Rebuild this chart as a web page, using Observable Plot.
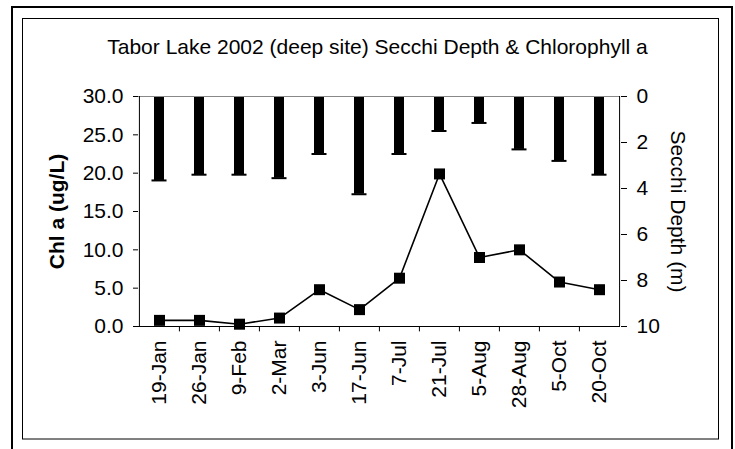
<!DOCTYPE html>
<html>
<head>
<meta charset="utf-8">
<script src="https://cdn.jsdelivr.net/npm/d3@7"></script>
<script src="https://cdn.jsdelivr.net/npm/@observablehq/plot@0.6"></script>
<style>
  html, body { margin: 0; padding: 0; background: #fff; }
  #chart { position: relative; width: 735px; height: 449px; overflow: hidden; }
</style>
</head>
<body>
<div id="chart"></div>
<script>
const dates = ["19-Jan","26-Jan","9-Feb","2-Mar","3-Jun","17-Jun","7-Jul","21-Jul","5-Aug","28-Aug","5-Oct","20-Oct"];
const chlA = [0.8, 0.8, 0.3, 1.1, 4.8, 2.2, 6.3, 19.9, 9.0, 10.0, 5.8, 4.8];
const secchi = [3.65, 3.4, 3.4, 3.55, 2.5, 4.25, 2.5, 1.5, 1.15, 2.3, 2.8, 3.4];
const chlTicks = [0, 5, 10, 15, 20, 25, 30];
const depthTicks = [0, 2, 4, 6, 8, 10];
const title = "Tabor Lake 2002 (deep site) Secchi Depth & Chlorophyll a";
const yTitleLeft = "Chl a (ug/L)";
const yTitleRight = "Secchi Depth (m)";

const chlMax = 30, depthMax = 10, k = chlMax / depthMax;
const toY = d => chlMax - d * k;   // secchi depth -> shared y scale

const W = 735, H = 449, mL = 138, mR = 115, mT = 96, mB = 123;
const bw = (W - mL - mR) / dates.length;
const font = "'Liberation Sans', Arial, sans-serif";
const fs = 21;
const idx = d3.range(dates.length);

const plot = Plot.plot({
  width: W, height: H,
  marginLeft: mL, marginRight: mR, marginTop: mT, marginBottom: mB,
  style: { fontFamily: font, background: "#fff", color: "#000" },
  x: { type: "band", domain: dates, padding: 0, label: null },
  y: { domain: [0, chlMax], label: null },
  marks: [
    // secchi bars hanging from the top
    Plot.barY(idx, { x: i => dates[i], y1: chlMax, y2: i => toY(secchi[i]), fill: "#000", insetLeft: 15, insetRight: 15 }),
    Plot.tickY(idx, { x: i => dates[i], y: i => toY(secchi[i]), stroke: "#000", strokeWidth: 2, insetLeft: 12.5, insetRight: 12.5 }),
    // plot area lines
    Plot.ruleY([chlMax], { stroke: "#888", strokeWidth: 1 }),
    Plot.ruleY([0], { stroke: "#000", strokeWidth: 1 }),
    Plot.ruleX([dates[0]], { y1: 0, y2: chlMax, dx: -bw / 2, stroke: "#000" }),
    Plot.ruleX([dates[dates.length - 1]], { y1: 0, y2: chlMax, dx: bw / 2, stroke: "#000" }),
    // category boundary ticks
    Plot.ruleX(dates.slice(1), { y1: 0, y2: -0.7, dx: -bw / 2, stroke: "#000" }),
    // axes
    Plot.axisY({ anchor: "left", ticks: chlTicks, tickFormat: d => d.toFixed(1), tickSize: 5, tickPadding: 10, fontSize: fs, label: null }),
    Plot.axisY({ anchor: "right", ticks: depthTicks.map(toY), tickFormat: v => String(Math.round((chlMax - v) / k)), tickSize: 6, tickPadding: 10, fontSize: fs, label: null }),
    Plot.axisX({ tickSize: 0, tickPadding: 14, tickRotate: -90, fontSize: fs, label: null }),
    // chlorophyll line
    Plot.line(idx, { x: i => dates[i], y: i => chlA[i], stroke: "#000", strokeWidth: 1.6 }),
    Plot.dot(idx, { x: i => dates[i], y: i => chlA[i], symbol: "square", r: 6.2, fill: "#000", stroke: null }),
    // titles
    Plot.text([title], { frameAnchor: "top", dy: -57, dx: -2, fontSize: fs, fill: "#000", textAnchor: "middle" }),
    Plot.text([yTitleLeft], { frameAnchor: "left", dx: -81, rotate: -90, fontSize: fs, fontWeight: "bold", fill: "#000", textAnchor: "middle" }),
    Plot.text([yTitleRight], { frameAnchor: "right", dx: 57, rotate: 90, fontSize: fs, fill: "#000", textAnchor: "middle" })
  ]
});

const svg = d3.select(plot);
// chart-area borders (Excel style)
svg.append("rect").attr("x", 12).attr("y", 7).attr("width", 720).attr("height", 470)
  .attr("fill", "none").attr("stroke", "#000").attr("stroke-width", 2);
svg.append("rect").attr("x", 22.5).attr("y", 18.5).attr("width", 696).attr("height", 420.5)
  .attr("fill", "none").attr("stroke", "#000").attr("stroke-width", 1);

document.getElementById("chart").appendChild(plot);
</script>
</body>
</html>
